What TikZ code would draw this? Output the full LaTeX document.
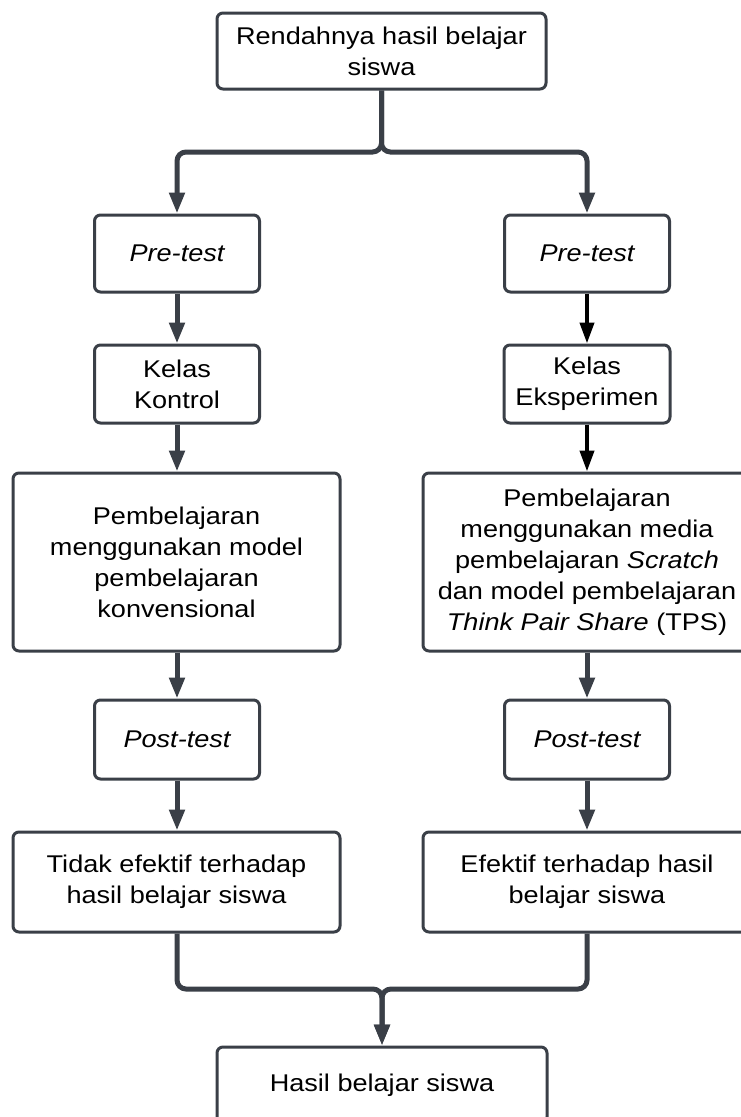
\documentclass[tikz,border=0pt]{standalone}
\usepackage{fontspec}
\setmainfont{Liberation Sans}[FakeStretch=1.12]
\usetikzlibrary{arrows.meta}
\definecolor{ln}{HTML}{3A3F47}
\tikzset{
  box/.style={draw=ln, line width=3pt, rounded corners=6pt, align=center, inner sep=0pt,
    font=\fontsize{24.2}{31}\selectfont, text=black},
  arr/.style={draw=ln, line width=5pt, -{Triangle[width=15pt,length=21pt]}},
  arrk/.style={draw=black, line width=4pt, -{Triangle[width=14pt,length=21pt]}},
  jn/.style={rounded corners=9pt}
}
\begin{document}
\begin{tikzpicture}[x=1pt,y=-1pt]
\clip (0,0) rectangle (741,1117);
\fill[white] (0,0) rectangle (741,1117);
% nodes
\node[box, minimum width=329pt, minimum height=76pt] (top) at (381.5,51) {Rendahnya hasil belajar\\siswa};
\node[box, minimum width=165pt, minimum height=77pt] (preL) at (177,253.5) {\itshape Pre-test};
\node[box, minimum width=165pt, minimum height=77pt] (preR) at (587,253.5) {\itshape Pre-test};
\node[box, minimum width=165pt, minimum height=78pt] (kelL) at (177,384) {Kelas\\Kontrol};
\node[box, minimum width=166pt, minimum height=78pt] (kelR) at (587,384) {Kelas\\Eksperimen};
\node[box, minimum width=327pt, minimum height=178pt] (pemL) at (176.5,562) {Pembelajaran\\menggunakan model\\pembelajaran\\konvensional};
\node[box, minimum width=328pt, minimum height=178pt] (pemR) at (587,562) {Pembelajaran\\menggunakan media\\pembelajaran \textit{Scratch}\\dan model pembelajaran\\\textit{Think Pair Share} (TPS)};
\node[box, minimum width=165pt, minimum height=79pt] (postL) at (177,739.5) {\itshape Post-test};
\node[box, minimum width=165pt, minimum height=79pt] (postR) at (587,739.5) {\itshape Post-test};
\node[box, minimum width=327pt, minimum height=100pt] (hasL) at (176.5,882) {Tidak efektif terhadap\\hasil belajar siswa};
\node[box, minimum width=328pt, minimum height=100pt] (hasR) at (587,882) {Efektif terhadap hasil\\belajar siswa};
\node[box, minimum width=330pt, minimum height=76pt] (bot) at (382,1085) {Hasil belajar siswa};
\coordinate (j1) at (381.5,152);
\coordinate (j2) at (382,989);
% connectors
\draw[arr, jn] (top.south) -- (j1) -| (preL.north);
\draw[arr, jn] (top.south) -- (j1) -| (preR.north);
\draw[arr] (preL.south) -- (kelL.north);
\draw[arrk] (preR.south) -- (kelR.north);
\draw[arr] (kelL.south) -- (kelL.south |- pemL.north);
\draw[arrk] (kelR.south) -- (pemR.north);
\draw[arr] (pemL.south -| postL.north) -- (postL.north);
\draw[arr] (pemR.south) -- (postR.north);
\draw[arr] (postL.south) -- (postL.south |- hasL.north);
\draw[arr] (postR.south) -- (hasR.north);
\draw[arr, jn] (postL.south |- hasL.south) |- (j2) -- (bot.north);
\draw[arr, jn] (hasR.south) |- (j2) -- (bot.north);
\end{tikzpicture}
\end{document}
